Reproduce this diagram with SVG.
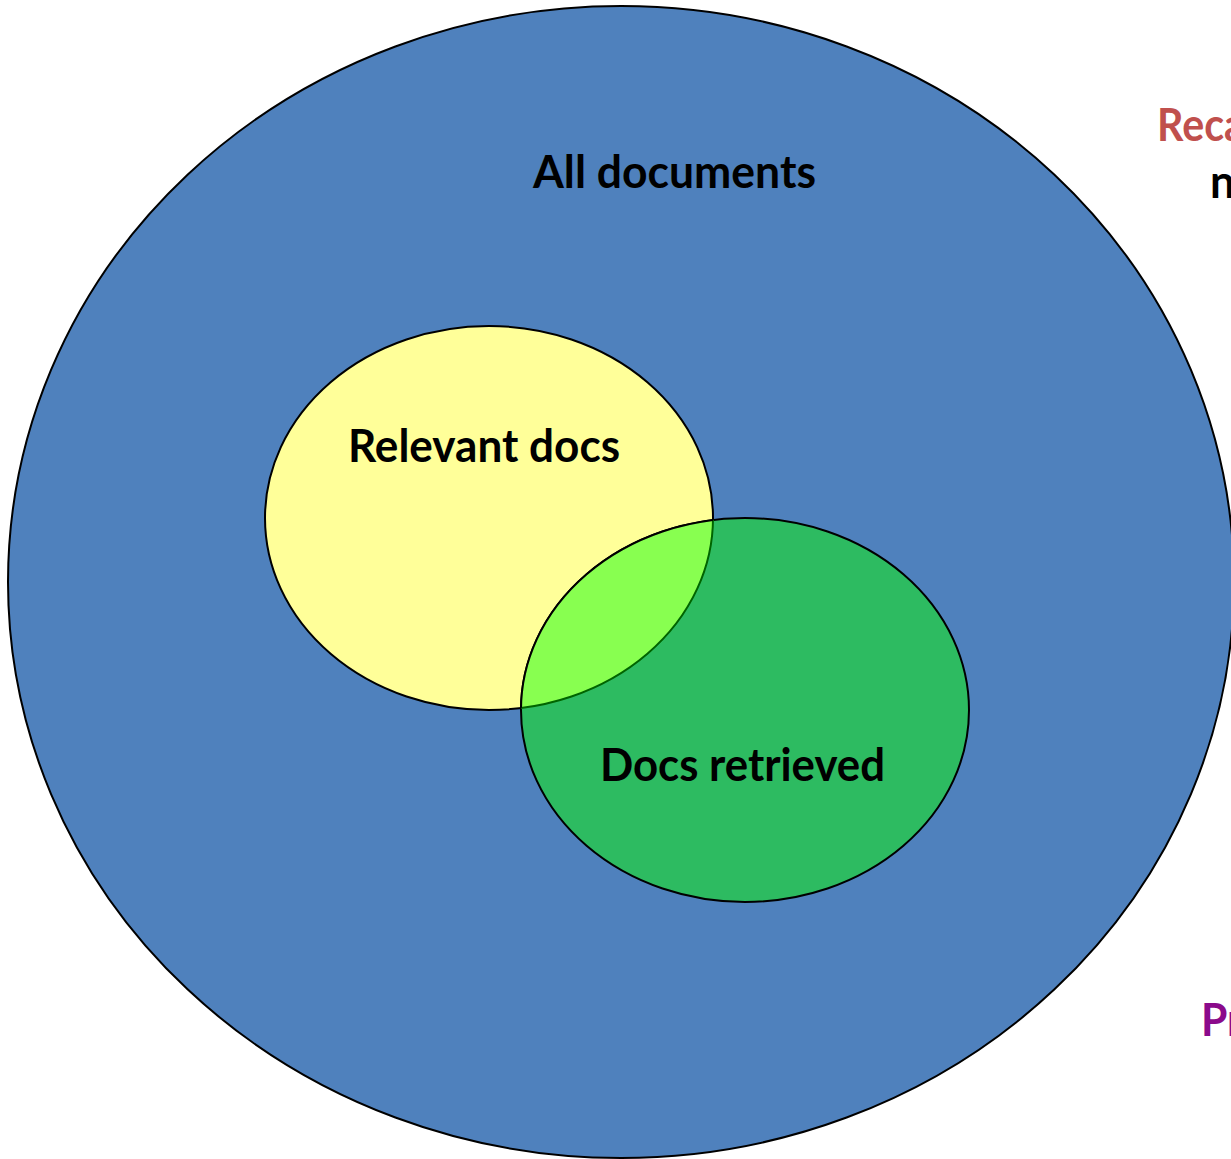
<svg xmlns="http://www.w3.org/2000/svg" width="1231" height="1159" viewBox="0 0 1231 1159">
<style>
  .lbl { font-family: Lato, "Liberation Sans", sans-serif; font-weight: bold; font-size: 46px; fill: #000; }
  .set { stroke: #000; stroke-width: 2; }
</style>
<defs>
  <clipPath id="clipYellow"><ellipse cx="489" cy="518" rx="224" ry="192"/></clipPath>
  <clipPath id="clipGreen"><ellipse cx="745" cy="710" rx="224" ry="192"/></clipPath>
</defs>
<rect width="1231" height="1159" fill="#fff"/>
<g id="all-documents">
  <ellipse class="set" cx="621" cy="582" rx="613" ry="576" fill="#4F81BD"/>
  <text class="lbl" x="533" y="188" textLength="283" lengthAdjust="spacingAndGlyphs">All documents</text>
</g>
<g id="relevant-docs">
  <ellipse class="set" cx="489" cy="518" rx="224" ry="192" fill="#FFFF99"/>
  <text class="lbl" x="348" y="462" textLength="272" lengthAdjust="spacingAndGlyphs">Relevant docs</text>
</g>
<g id="docs-retrieved">
  <ellipse class="set" cx="745" cy="710" rx="224" ry="192" fill="#2DBB61"/>
  <g clip-path="url(#clipGreen)">
    <ellipse cx="489" cy="518" rx="224" ry="192" fill="#88FF50" stroke="#006400" stroke-width="2"/>
  </g>
  <ellipse cx="745" cy="710" rx="224" ry="192" fill="none" stroke="#000" stroke-width="2" clip-path="url(#clipYellow)"/>
  <text class="lbl" x="600" y="781" textLength="285" lengthAdjust="spacingAndGlyphs">Docs retrieved</text>
</g>
<g id="side-notes">
  <text class="lbl" x="1157" y="141" textLength="88" lengthAdjust="spacingAndGlyphs" style="fill:#C0504D">Reca</text>
  <text class="lbl" x="1210" y="198" textLength="25" lengthAdjust="spacingAndGlyphs">n</text>
  <text class="lbl" x="1201" y="1036" textLength="42" lengthAdjust="spacingAndGlyphs" style="fill:#8B0A8B">Pr</text>
</g>
<g id="connectors"></g>
</svg>
